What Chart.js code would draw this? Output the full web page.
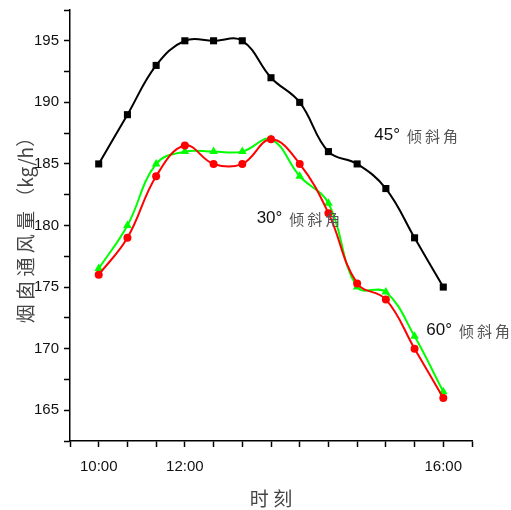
<!DOCTYPE html>
<html>
<head>
<meta charset="utf-8">
<script src="https://cdn.jsdelivr.net/npm/chart.js@4"></script>
<style>
  html, body { margin: 0; padding: 0; background: #fff; }
  #wrap { width: 511px; height: 510px; }
</style>
</head>
<body>
<div id="wrap"><canvas id="grafico"></canvas></div>
<script>
// posições dos pontos (meia hora cada, 10:00 -> 16:00)
const pontos = [0, 1, 2, 3, 4, 5, 6, 7, 8, 9, 10, 11, 12];
const dados45 = [185, 189, 193, 195, 195, 195, 192, 190, 186, 185, 183, 179, 175];
const dados30 = [176, 179, 184, 186.5, 185, 185, 187, 185, 181, 175.3, 174, 170, 166];
const dados60 = [176.5, 180, 185, 186, 186, 186, 187, 184, 181.8, 175, 174.6, 171, 166.5];

// rótulos do eixo x
const posRotulos = [0, 3, 12];
const rotulosX = ['10:00', '12:00', '16:00'];

// textos das curvas
const notaTexto = ['45°', '30°', '60°'];
const notaX = [9.6, 5.5, 11.41];
const notaY = [187.3, 180.55, 171.46];

const fonteNum = "'Liberation Sans Narrow', 'Arial Narrow', 'Liberation Sans', Arial, sans-serif";
const fonteCjk = "'Noto Sans CJK SC', sans-serif";

const notas = {
    id: 'notas',
    afterDatasetsDraw(chart) {
        const ctx = chart.ctx;
        const x = chart.scales.x;
        const y = chart.scales.y;
        ctx.save();
        ctx.textBaseline = 'middle';
        for (var i = 0; i < notaTexto.length; i++) {
            var px = x.getPixelForValue(notaX[i]);
            var py = y.getPixelForValue(notaY[i]);
            ctx.font = '17px ' + fonteNum;
            ctx.fillStyle = '#111';
            ctx.fillText(notaTexto[i], px, py);
            var w = ctx.measureText(notaTexto[i]).width;
            ctx.font = '15px ' + fonteCjk;
            ctx.fillStyle = '#555';
            var chars = ['倾', '斜', '角'];
            for (var j = 0; j < chars.length; j++) {
                ctx.fillText(chars[j], px + w + 7 + j * 18, py + 1);
            }
        }
        ctx.restore();
    }
};

function serie(dados, cor, estilo, raio) {
    return {
        data: dados.map(function (v, i) { return { x: pontos[i], y: v }; }),
        borderColor: cor,
        backgroundColor: cor,
        borderWidth: 2,
        pointStyle: estilo,
        pointRadius: raio,
        pointBorderWidth: 0,
        tension: 0.4
    };
}

const eixoComum = {
    grid: { display: true, drawOnChartArea: false, drawTicks: true, tickLength: 6, color: '#000', tickWidth: 1.5 },
    border: { display: true, color: '#000', width: 1.5 }
};

new Chart(document.getElementById('grafico'), {
    type: 'line',
    data: {
        datasets: [
            serie(dados45, '#000000', 'rect', 5),
            serie(dados30, '#ff0000', 'circle', 4),
            serie(dados60, '#00ff00', 'triangle', 5)
        ]
    },
    options: {
        responsive: true,
        maintainAspectRatio: false,
        animation: false,
        layout: { padding: { top: 10, right: 39, left: 0, bottom: 0 } },
        plugins: { legend: { display: false }, tooltip: { enabled: false } },
        scales: {
            x: {
                type: 'linear',
                min: -1,
                max: 13,
                grid: eixoComum.grid,
                border: eixoComum.border,
                ticks: {
                    stepSize: 1,
                    autoSkip: false,
                    maxRotation: 0,
                    padding: 11,
                    color: '#111',
                    font: { family: fonteNum, size: 15 },
                    callback: function (v) {
                        var k = posRotulos.indexOf(v);
                        return k >= 0 ? rotulosX[k] : '';
                    }
                },
                title: {
                    display: true,
                    text: '时 刻',
                    color: '#444',
                    font: { family: fonteCjk, size: 19 },
                    padding: { top: 4, bottom: 0 }
                },
                afterFit: function (s) { s.height = 69; s.paddingLeft = 0; s.paddingRight = 0; }
            },
            y: {
                min: 162.5,
                max: 197.5,
                grid: eixoComum.grid,
                border: eixoComum.border,
                ticks: {
                    stepSize: 2.5,
                    padding: 5,
                    color: '#111',
                    font: { family: fonteNum, size: 15 },
                    callback: function (v) { return v % 5 === 0 ? v : ''; }
                },
                title: {
                    display: true,
                    text: '烟 囱 通 风 量 （kg/h）',
                    color: '#444',
                    font: { family: fonteCjk, size: 19 },
                    padding: { top: 14, bottom: 0 }
                },
                afterFit: function (s) { s.width = 70; s.paddingTop = 0; s.paddingBottom = 0; }
            }
        }
    },
    plugins: [notas]
});
</script>
</body>
</html>
